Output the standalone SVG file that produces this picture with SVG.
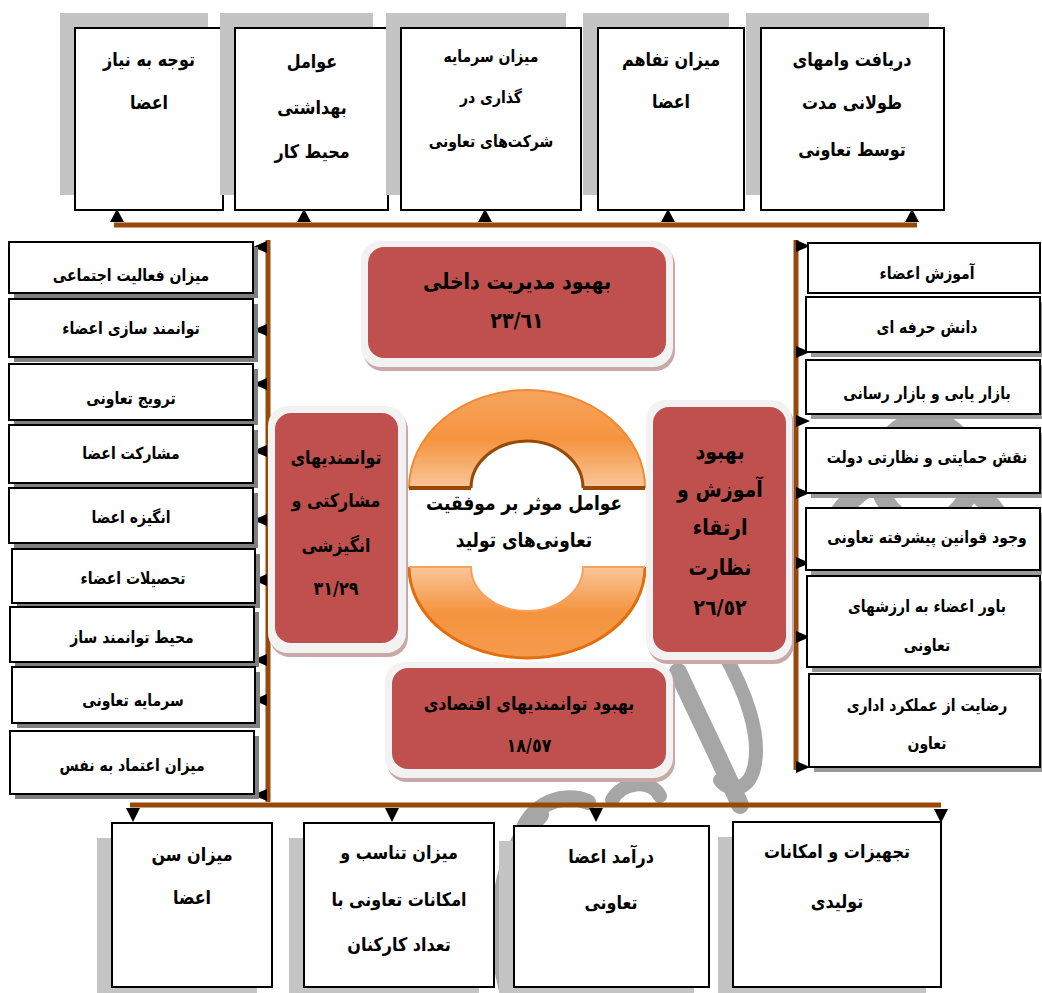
<svg xmlns="http://www.w3.org/2000/svg" width="1042" height="993" viewBox="0 0 1042 993">
<style>
text{font-family:"DejaVu Sans","Noto Sans",sans-serif;font-weight:bold;fill:#000;text-anchor:middle;direction:rtl}
.t16{font-size:16px}
.t14{font-size:14px}
.t17{font-size:17px}
.t20{font-size:19px}
.box{fill:#fff;stroke:#000;stroke-width:2}
.shL{fill:#c4c4c4}
.shD{fill:#7f7f7f}
.shR{fill:#9a9a9a}
.bar{stroke:#984807;stroke-width:5;fill:none}
.arr{fill:#000}
.outer{fill:#f2f2f2}
.oshadow{fill:#c9a9a8}
.red{fill:#c0504d}
.wm{fill:none;stroke:#a6a6a6;stroke-linecap:round}
</style>
<defs>
<linearGradient id="gTop" x1="0" y1="0" x2="0" y2="1">
<stop offset="0" stop-color="#f7a45e"/><stop offset="0.5" stop-color="#f5943f"/><stop offset="1" stop-color="#fac69a"/>
</linearGradient>
<linearGradient id="gBot" x1="0" y1="0" x2="0" y2="1">
<stop offset="0" stop-color="#fac69a"/><stop offset="0.5" stop-color="#f5943f"/><stop offset="1" stop-color="#f59a4c"/>
</linearGradient>
</defs>
<rect width="1042" height="993" fill="#fff"/>

<g id="watermark">
<path class="wm" stroke-width="18" d="M678,672 C700,720 725,770 740,805"/>
<path class="wm" stroke-width="14" d="M722,650 C745,690 762,735 754,768 C748,792 728,792 720,780"/>
<path class="wm" stroke-width="16" d="M520,845 C522,808 560,790 588,802"/>
<path class="wm" stroke-width="14" d="M612,800 C622,782 650,778 660,796"/>
<path class="wm" stroke-width="18" d="M540,815 C502,852 490,922 508,990"/>
<ellipse class="wm" stroke-width="18" cx="925" cy="472" rx="48" ry="52"/>
<ellipse class="wm" stroke-width="20" cx="918" cy="565" rx="95" ry="92"/>
</g>

<g id="connectors">
<line class="bar" x1="114" y1="225" x2="917" y2="225"/>
<line class="bar" x1="268" y1="240" x2="268" y2="802" stroke-width="4"/>
<line class="bar" x1="796" y1="240" x2="796" y2="770"/>
<line class="bar" x1="130" y1="805" x2="941" y2="805"/>
<g class="arr">
<polygon points="117,209 110,222 124,222"/>
<polygon points="304,209 297,222 311,222"/>
<polygon points="485,209 478,222 492,222"/>
<polygon points="668,209 661,222 675,222"/>
<polygon points="912,209 905,222 919,222"/>
<polygon points="253,247 267,241 267,253"/>
<polygon points="253,330 267,324 267,336"/>
<polygon points="253,384 267,378 267,390"/>
<polygon points="253,451 267,445 267,457"/>
<polygon points="253,520 267,514 267,526"/>
<polygon points="253,580 267,574 267,586"/>
<polygon points="253,660 267,654 267,666"/>
<polygon points="253,700 267,694 267,706"/>
<polygon points="253,795 267,789 267,801"/>
<polygon points="810,246 796,240 796,252"/>
<polygon points="810,352 796,346 796,358"/>
<polygon points="810,421 796,415 796,427"/>
<polygon points="810,493 796,487 796,499"/>
<polygon points="810,563 796,557 796,569"/>
<polygon points="810,637 796,631 796,643"/>
<polygon points="810,767 796,761 796,773"/>
<polygon points="133,822 126,808 140,808"/>
<polygon points="392,822 385,808 399,808"/>
<polygon points="596,822 589,808 603,808"/>
<polygon points="941,823 934,809 948,809"/>
</g>
</g>

<g id="top1"><rect class="shL" x="60" y="13" width="148" height="182"/><rect class="box" x="75" y="28" width="148" height="182"/>
<text class="t16" transform="translate(149,66) scale(1,1.18)">توجه به نیاز</text><text class="t16" transform="translate(149,109) scale(1,1.18)">اعضا</text></g>
<g id="top2"><rect class="shL" x="220" y="13" width="153" height="182"/><rect class="box" x="235" y="28" width="153" height="182"/>
<text class="t16" transform="translate(312,68) scale(1,1.18)">عوامل</text><text class="t16" transform="translate(312,114) scale(1,1.18)">بهداشتی</text><text class="t16" transform="translate(312,158) scale(1,1.18)">محیط کار</text></g>
<g id="top3"><rect class="shL" x="386" y="13" width="180" height="182"/><rect class="box" x="401" y="28" width="180" height="182"/>
<text class="t14" transform="translate(491,62) scale(1,1.18)">میزان سرمایه</text><text class="t14" transform="translate(491,103) scale(1,1.18)">گذاری در</text><text class="t14" transform="translate(491,147) scale(1,1.18)">شرکت‌های تعاونی</text></g>
<g id="top4"><rect class="shL" x="583" y="13" width="146" height="182"/><rect class="box" x="598" y="28" width="146" height="182"/>
<text class="t16" transform="translate(671,66) scale(1,1.18)">میزان تفاهم</text><text class="t16" transform="translate(671,108) scale(1,1.18)">اعضا</text></g>
<g id="top5"><rect class="shL" x="746" y="13" width="183" height="182"/><rect class="box" x="761" y="28" width="183" height="182"/>
<text class="t16" transform="translate(852,66) scale(1,1.18)">دریافت وامهای</text><text class="t16" transform="translate(852,109) scale(1,1.18)">طولانی مدت</text><text class="t16" transform="translate(852,156) scale(1,1.18)">توسط تعاونی</text></g>

<g id="left1"><rect class="shD" x="14" y="247" width="244" height="51"/><rect class="box" x="9" y="242" width="244" height="51"/><text class="t14" transform="translate(131,281) scale(1,1.18)">میزان فعالیت اجتماعی</text></g>
<g id="left2"><rect class="shD" x="14" y="304" width="244" height="58"/><rect class="box" x="9" y="299" width="244" height="58"/><text class="t14" transform="translate(131,334) scale(1,1.18)">توانمند سازی اعضاء</text></g>
<g id="left3"><rect class="shD" x="14" y="369" width="244" height="56"/><rect class="box" x="9" y="364" width="244" height="56"/><text class="t14" transform="translate(131,404) scale(1,1.18)">ترویج تعاونی</text></g>
<g id="left4"><rect class="shD" x="14" y="430" width="244" height="58"/><rect class="box" x="9" y="425" width="244" height="58"/><text class="t14" transform="translate(131,459) scale(1,1.18)">مشارکت اعضا</text></g>
<g id="left5"><rect class="shD" x="14" y="493" width="244" height="55"/><rect class="box" x="9" y="488" width="244" height="55"/><text class="t14" transform="translate(131,523) scale(1,1.18)">انگیزه اعضا</text></g>
<g id="left6"><rect class="shD" x="17" y="554" width="243" height="54"/><rect class="box" x="12" y="549" width="243" height="54"/><text class="t14" transform="translate(133,584) scale(1,1.18)">تحصیلات اعضاء</text></g>
<g id="left7"><rect class="shD" x="15" y="612" width="244" height="55"/><rect class="box" x="10" y="607" width="244" height="55"/><text class="t14" transform="translate(132,643) scale(1,1.18)">محیط توانمند ساز</text></g>
<g id="left8"><rect class="shD" x="17" y="672" width="243" height="56"/><rect class="box" x="12" y="667" width="243" height="56"/><text class="t14" transform="translate(133,706) scale(1,1.18)">سرمایه تعاونی</text></g>
<g id="left9"><rect class="shD" x="15" y="736" width="244" height="63"/><rect class="box" x="10" y="731" width="244" height="63"/><text class="t14" transform="translate(132,771) scale(1,1.18)">میزان اعتماد به نفس</text></g>

<g id="right1"><rect class="box" x="808" y="243" width="232" height="50"/><text class="t14" transform="translate(927,279) scale(1,1.18)">آموزش اعضاء</text></g>
<g id="right2"><rect class="shR" x="811" y="302" width="232" height="55"/><rect class="box" x="806" y="297" width="234" height="55"/><text class="t14" transform="translate(927,333) scale(1,1.18)">دانش حرفه ای</text></g>
<g id="right3"><rect class="shR" x="811" y="365" width="232" height="54"/><rect class="box" x="806" y="360" width="234" height="54"/><text class="t14" transform="translate(927,399) scale(1,1.18)">بازار یابی و بازار رسانی</text></g>
<g id="right4"><rect class="shR" x="811" y="433" width="232" height="65"/><rect class="box" x="806" y="428" width="234" height="65"/><text class="t14" transform="translate(927,463) scale(1,1.18)">نقش حمایتی و نظارتی دولت</text></g>
<g id="right5"><rect class="shR" x="811" y="513" width="232" height="62"/><rect class="box" x="806" y="508" width="234" height="62"/><text class="t14" transform="translate(927,543) scale(1,1.18)">وجود قوانین پیشرفته تعاونی</text></g>
<g id="right6"><rect class="shR" x="812" y="581" width="232" height="91"/><rect class="box" x="807" y="576" width="233" height="91"/><text class="t14" transform="translate(927,612) scale(1,1.18)">باور اعضاء به ارزشهای</text><text class="t14" transform="translate(927,651) scale(1,1.18)">تعاونی</text></g>
<g id="right7"><rect class="shR" x="814" y="679" width="232" height="93"/><rect class="box" x="809" y="674" width="231" height="93"/><text class="t14" transform="translate(927,711) scale(1,1.18)">رضایت از عملکرد اداری</text><text class="t14" transform="translate(927,749) scale(1,1.18)">تعاون</text></g>

<g id="bottom1"><rect class="shL" x="97" y="838" width="160" height="160"/><rect class="box" x="112" y="823" width="160" height="164"/>
<text class="t16" transform="translate(192,861) scale(1,1.18)">میزان سن</text><text class="t16" transform="translate(192,904) scale(1,1.18)">اعضا</text></g>
<g id="bottom2"><rect class="shL" x="289" y="838" width="190" height="160"/><rect class="box" x="304" y="823" width="190" height="164"/>
<text class="t16" transform="translate(399,859) scale(1,1.18)">میزان تناسب و</text><text class="t16" transform="translate(399,906) scale(1,1.18)">امکانات تعاونی با</text><text class="t16" transform="translate(399,951) scale(1,1.18)">تعداد کارکنان</text></g>
<g id="bottom3"><rect class="shL" x="499" y="841" width="195" height="160"/><rect class="box" x="514" y="826" width="195" height="161"/>
<text class="t16" transform="translate(611,863) scale(1,1.18)">درآمد اعضا</text><text class="t16" transform="translate(611,909) scale(1,1.18)">تعاونی</text></g>
<g id="bottom4"><rect class="shL" x="718" y="837" width="208" height="160"/><rect class="box" x="733" y="822" width="208" height="165"/>
<text class="t16" transform="translate(837,858) scale(1,1.18)">تجهیزات و امکانات</text><text class="t16" transform="translate(837,908) scale(1,1.18)">تولیدی</text></g>

<g id="center">
<path fill="url(#gTop)" d="M409,488 A118,98 0 0 1 645,488 L583,488 A56,47 0 0 0 471,488 Z"/>
<path fill="none" stroke="#f08a32" stroke-width="2" d="M409,488 A118,98 0 0 1 645,488"/>
<path fill="none" stroke="#984807" stroke-width="3" d="M583,488 A56,47 0 0 0 471,488"/>
<line x1="409" y1="488" x2="471" y2="488" stroke="#984807" stroke-width="4"/>
<line x1="583" y1="488" x2="645" y2="488" stroke="#984807" stroke-width="4"/>
<path fill="url(#gBot)" d="M409,567 A118,91 0 0 0 645,567 L583,567 A56,44 0 0 1 471,567 Z"/>
<path fill="none" stroke="#e46c0a" stroke-width="3" d="M409,567 A118,91 0 0 0 645,567"/>
<path fill="none" stroke="#f5a25c" stroke-width="2" d="M409,567 L471,567 A56,44 0 0 0 583,567 L645,567"/>
<text class="t17" transform="translate(524,510) scale(1,1.18)">عوامل موثر بر موفقیت</text>
<text class="t17" transform="translate(524,547) scale(1,1.18)">تعاونی‌های تولید</text>
</g>

<g id="red-top">
<rect class="oshadow" x="363" y="245" width="312" height="126" rx="20"/>
<rect class="outer" x="361" y="241" width="312" height="126" rx="20"/>
<rect class="red" x="368" y="247" width="298" height="111" rx="16"/>
<text class="t20" transform="translate(517,289) scale(1,1.15)">بهبود مدیریت داخلی</text>
<text class="t20" transform="translate(517,328) scale(1,1.15)">٢٣/٦١</text>
</g>
<g id="red-left">
<rect class="oshadow" x="270" y="410" width="138" height="247" rx="20"/>
<rect class="outer" x="268" y="406" width="138" height="247" rx="20"/>
<rect class="red" x="275" y="413" width="123" height="230" rx="16"/>
<text class="t16" transform="translate(336,464) scale(1,1.18)">توانمندیهای</text>
<text class="t16" transform="translate(336,507) scale(1,1.18)">مشارکتی و</text>
<text class="t16" transform="translate(336,552) scale(1,1.18)">انگیزشی</text>
<text class="t16" transform="translate(336,595) scale(1,1.18)">٣١/٢٩</text>
</g>
<g id="red-right">
<rect class="oshadow" x="648" y="404" width="146" height="260" rx="20"/>
<rect class="outer" x="646" y="400" width="146" height="260" rx="20"/>
<rect class="red" x="653" y="407" width="133" height="245" rx="16"/>
<text class="t20" transform="translate(720,459) scale(1,1.15)">بهبود</text>
<text class="t20" transform="translate(720,497) scale(1,1.15)">آموزش و</text>
<text class="t20" transform="translate(720,535) scale(1,1.15)">ارتقاء</text>
<text class="t20" transform="translate(720,575) scale(1,1.15)">نظارت</text>
<text class="t20" transform="translate(720,615) scale(1,1.15)">٢٦/٥٢</text>
</g>
<g id="red-bottom">
<rect class="oshadow" x="387" y="666" width="288" height="116" rx="20"/>
<rect class="outer" x="385" y="662" width="288" height="116" rx="20"/>
<rect class="red" x="392" y="668" width="274" height="101" rx="16"/>
<text class="t16" transform="translate(529,710) scale(1,1.18)">بهبود توانمندیهای اقتصادی</text>
<text class="t16" transform="translate(529,752) scale(1,1.18)">١٨/٥٧</text>
</g>
</svg>
